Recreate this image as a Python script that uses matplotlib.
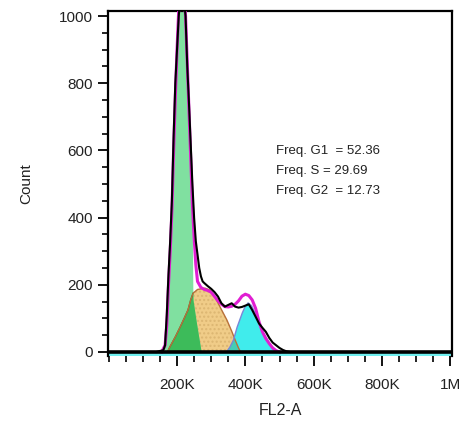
import matplotlib
matplotlib.use("Agg")
import matplotlib.pyplot as plt
from matplotlib.ticker import MultipleLocator, FixedLocator

plt.rcParams['font.family'] = ['Liberation Sans', 'DejaVu Sans']

# ---- data (x in K units of FL2-A, y in counts) ----
hist_x = [140, 150, 160, 165, 170, 175, 180, 185, 190, 195, 200, 205, 210, 215, 220,
          225, 230, 235, 240, 245, 250, 255, 260, 265, 270, 275, 280, 290, 300, 310,
          320, 330, 340, 350, 360, 370, 380, 390, 400, 410, 420, 430, 440, 450, 460,
          470, 480, 490, 500, 510, 520, 530]
hist_y = [0, 3, 5, 20, 110, 230, 330, 450, 640, 800, 900, 1000, 1060, 1080, 1050,
          1000, 850, 740, 620, 500, 400, 330, 290, 250, 225, 210, 205, 196, 188, 178,
          165, 145, 135, 140, 145, 135, 132, 134, 138, 142, 125, 105, 85, 72, 60,
          42, 28, 20, 12, 6, 2, 0]

fit_x = [155, 165, 170, 175, 180, 185, 190, 195, 200, 205, 210, 215, 220, 225, 230,
         235, 240, 245, 250, 255, 260, 270, 280, 290, 300, 310, 320, 330, 340, 350,
         360, 370, 380, 390, 400, 410, 420, 430, 440, 450, 460, 470, 480, 490, 500]
fit_y = [0, 20, 80, 200, 300, 420, 600, 760, 900, 1020, 1080, 1100, 1080, 1000, 860,
         720, 580, 440, 340, 260, 210, 192, 186, 183, 178, 165, 152, 142, 135, 134,
         136, 142, 152, 166, 172, 168, 155, 130, 90, 60, 40, 25, 12, 4, 0]

g1_x = [163, 168, 172, 176, 182, 189, 195, 203, 208, 215, 222, 227, 233, 238, 243,
        246, 248, 257, 267, 272]
g1_y = [0, 30, 120, 214, 300, 452, 720, 950, 1040, 1070, 1040, 950, 720, 580, 452,
        390, 155, 93, 31, 0]

s_x = [172, 179, 195, 209, 220, 232, 240, 247, 260, 282, 297, 312, 326, 346, 360,
       370, 380, 386]
s_y = [0, 15, 45, 74, 98, 125, 155, 175, 186, 190, 184, 162, 134, 95, 62,
       36, 12, 0]

g2_x = [345, 355, 365, 376, 391, 399, 408, 418, 434, 452, 473, 487]
g2_y = [0, 15, 35, 74, 116, 134, 146, 138, 104, 57, 21, 0]

freq_labels = ["Freq. G1  = 52.36", "Freq. S = 29.69", "Freq. G2  = 12.73"]

x_ticks = [200, 400, 600, 800, 1000]
x_ticklabels = ["200K", "400K", "600K", "800K", "1M"]
y_ticks = [0, 200, 400, 600, 800, 1000]

# ---- figure ----
fig = plt.figure(figsize=(4.66, 4.30), dpi=100)
ax = fig.add_axes([0.2318, 0.1721, 0.9700 - 0.2318, 0.9744 - 0.1721])
ax.set_xlim(-2, 1005)
ax.set_ylim(-12, 1015)

# S phase (orange, stippled)
s_fill = ax.fill(s_x, s_y, facecolor='#f0cc88', edgecolor='none', zorder=1)
ax.fill(s_x, s_y, facecolor='none', edgecolor='#dcb672', hatch='....',
        linewidth=0, zorder=1.1)
# G1 (light green)
g1_fill = ax.fill(g1_x, g1_y, facecolor='#80e0a0', edgecolor='none', zorder=2)
# G1 ∩ S (dark green)
ov1 = ax.fill(s_x, s_y, facecolor='#3dbb5a', edgecolor='#1d7a35', linewidth=0.9,
              zorder=3)
ov1[0].set_clip_path(g1_fill[0])
# G2 (cyan)
g2_fill = ax.fill(g2_x, g2_y, facecolor='#40ecec', edgecolor='none', zorder=2)
# G2 ∩ S (teal)
ov2 = ax.fill(g2_x, g2_y, facecolor='#45cdb5', edgecolor='none', zorder=3)
ov2[0].set_clip_path(s_fill[0])

# outlines
ax.plot(s_x, s_y, color='#b8703a', lw=1.0, zorder=4)
ax.plot(g2_x, g2_y, color='#7a86d8', lw=1.0, zorder=4)

# fitted model (magenta) and histogram (black)
ax.plot(fit_x, fit_y, color='#e01ed2', lw=2.2, zorder=5)
ax.plot(hist_x, hist_y, color='black', lw=1.5, zorder=6)

# baseline
ax.axhline(0, color='black', lw=2.6, zorder=7)
ax.axhspan(-12, -3, color='#70f0f0', lw=0, zorder=0.5)

# text
for i, t in enumerate(freq_labels):
    ax.text(0.487, 0.595 - i * 0.058, t, transform=ax.transAxes, fontsize=9.5,
            color='#222222', va='center', ha='left')

# axes styling
for side in ['top', 'right']:
    ax.spines[side].set_linewidth(1.6)
ax.spines['left'].set_linewidth(1.6)
ax.spines['bottom'].set_visible(False)

ax.xaxis.set_major_locator(FixedLocator(x_ticks))
ax.set_xticklabels(x_ticklabels)
ax.xaxis.set_minor_locator(MultipleLocator(50))
ax.yaxis.set_major_locator(FixedLocator(y_ticks))
ax.yaxis.set_minor_locator(MultipleLocator(50))

ax.tick_params(axis='x', which='major', direction='out', length=7, width=1.3,
               pad=9, labelsize=11, labelcolor='#222222')
ax.tick_params(axis='x', which='minor', direction='out', length=4, width=1.2)
ax.tick_params(axis='y', which='major', direction='out', length=7, width=1.3,
               pad=4, labelsize=11, labelcolor='#222222')
ax.tick_params(axis='y', which='minor', direction='out', length=4, width=1.2)

ax.set_xlabel("FL2-A", fontsize=11.5, color='#222222', labelpad=8)
ax.set_ylabel("Count", fontsize=11, color='#222222', labelpad=18)

fig.savefig("out.png", dpi=100)
